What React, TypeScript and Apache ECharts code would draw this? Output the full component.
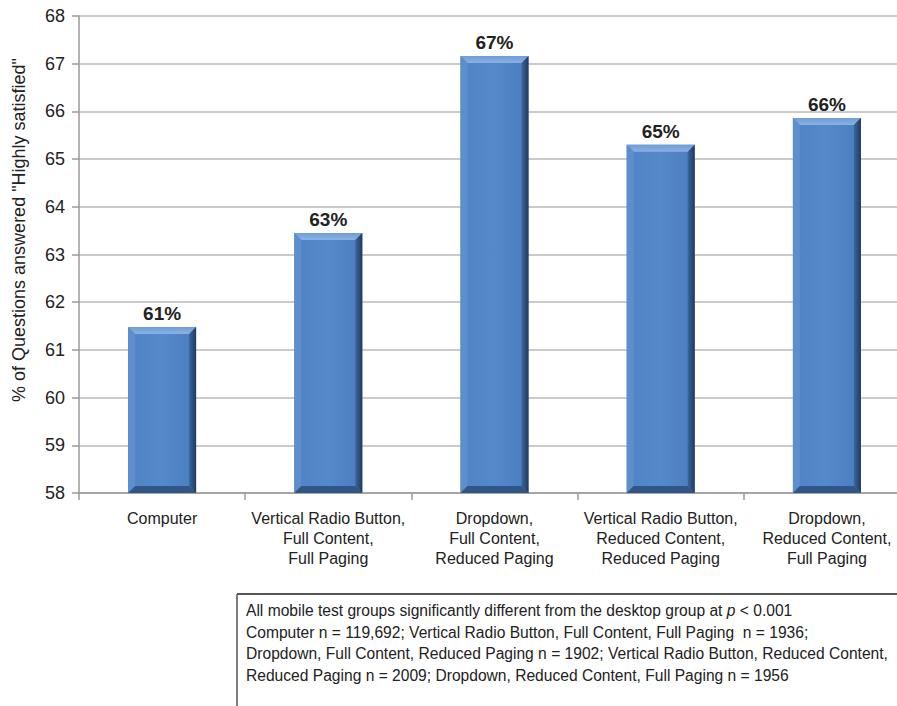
import React, { useEffect, useRef } from "react";
import * as echarts from "echarts";

const categories = [
  "Computer",
  "Vertical Radio Button,\nFull Content,\nFull Paging",
  "Dropdown,\nFull Content,\nReduced Paging",
  "Vertical Radio Button,\nReduced Content,\nReduced Paging",
  "Dropdown,\nReduced Content,\nFull Paging",
];
const values = [61.48, 63.45, 67.16, 65.3, 65.86];
const yMin = 58;
const yMax = 68;
const yTitle = '% of Questions answered "Highly satisfied"';
const noteLines = [
  "All mobile test groups significantly different from the desktop group at {i|p} < 0.001",
  "Computer n = 119,692; Vertical Radio Button, Full Content, Full Paging  n = 1936;",
  "Dropdown, Full Content, Reduced Paging n = 1902; Vertical Radio Button, Reduced Content,",
  "Reduced Paging n = 2009; Dropdown, Reduced Content, Full Paging n = 1956",
];

const FONT = '"Liberation Sans", Arial, Helvetica, sans-serif';

export default function App() {
  const ref = useRef<HTMLDivElement>(null);
  useEffect(() => {
    if (!ref.current) return;
    const chart = echarts.init(ref.current, null, { renderer: "svg" });
    const barW = 68;
    const bev = 7;
    chart.setOption({
      animation: false,
      backgroundColor: "#fff",
      textStyle: { fontFamily: FONT },
      grid: { left: 79, right: 0, top: 16, bottom: 213, containLabel: false },
      xAxis: {
        type: "category",
        data: categories,
        axisLine: { lineStyle: { color: "#9a9a9a", width: 1.5 } },
        axisTick: { show: true, length: 7, alignWithLabel: false, lineStyle: { color: "#9a9a9a", width: 1.5 } },
        axisLabel: {
          interval: 0,
          color: "#222",
          fontSize: 16,
          lineHeight: 20,
          margin: 15,
          fontFamily: FONT,
        },
      },
      yAxis: {
        type: "value",
        min: yMin,
        max: yMax,
        interval: 1,
        axisLine: { show: true, lineStyle: { color: "#9a9a9a", width: 1.5 } },
        axisTick: { show: true, length: 7, lineStyle: { color: "#9a9a9a", width: 1.5 } },
        axisLabel: { color: "#222", fontSize: 18, margin: 14, fontFamily: FONT },
        splitLine: { lineStyle: { color: "#b8b8b8", width: 1.5 } },
      },
      series: [
        {
          type: "custom",
          data: values.map((v, i) => [i, v]),
          renderItem: (params: any, api: any) => {
            const idx = api.value(0);
            const val = api.value(1);
            const top = api.coord([idx, val]);
            const base = api.coord([idx, yMin]);
            const x0 = top[0] - barW / 2;
            const x1 = top[0] + barW / 2;
            const y0 = top[1];
            const y1 = base[1];
            return {
              type: "group",
              children: [
                {
                  type: "rect",
                  shape: { x: x0, y: y0, width: barW, height: y1 - y0 },
                  style: {
                    fill: new echarts.graphic.LinearGradient(0, 0, 1, 0, [
                      { offset: 0, color: "#4f83c4" },
                      { offset: 0.5, color: "#5489ca" },
                      { offset: 1, color: "#4a7dbd" },
                    ]),
                  },
                },
                {
                  type: "polygon",
                  shape: { points: [[x0, y0], [x1, y0], [x1 - bev, y0 + bev], [x0 + bev, y0 + bev]] },
                  style: {
                    fill: new echarts.graphic.LinearGradient(0, 0, 0, 1, [
                      { offset: 0, color: "#6f9dd6" },
                      { offset: 1, color: "#8ab2e2" },
                    ]),
                  },
                },
                {
                  type: "polygon",
                  shape: { points: [[x0, y0], [x0 + bev, y0 + bev], [x0 + bev, y1 - bev], [x0, y1]] },
                  style: { fill: "#5d8fcd" },
                },
                {
                  type: "polygon",
                  shape: { points: [[x1, y0], [x1, y1], [x1 - bev, y1 - bev], [x1 - bev, y0 + bev]] },
                  style: {
                    fill: new echarts.graphic.LinearGradient(0, 0, 1, 0, [
                      { offset: 0, color: "#3a679f" },
                      { offset: 1, color: "#1f3a5e" },
                    ]),
                  },
                },
                {
                  type: "polygon",
                  shape: { points: [[x0, y1], [x0 + bev, y1 - bev], [x1 - bev, y1 - bev], [x1, y1]] },
                  style: { fill: "#2f5687" },
                },
                {
                  type: "text",
                  x: top[0],
                  y: y0 - 4,
                  style: {
                    text: Math.round(val) + "%",
                    fill: "#222",
                    fontSize: 19,
                    fontWeight: "bold",
                    fontFamily: FONT,
                    align: "center",
                    verticalAlign: "bottom",
                  },
                },
              ],
            };
          },
        },
      ],
      graphic: [
        {
          type: "text",
          x: 19,
          y: 230,
          rotation: Math.PI / 2,
          style: {
            text: yTitle,
            fill: "#222",
            fontSize: 18,
            fontFamily: FONT,
            align: "center",
            verticalAlign: "middle",
          },
        },
        {
          type: "line",
          shape: { x1: 237, y1: 594, x2: 912, y2: 594 },
          style: { stroke: "#555", lineWidth: 2 },
        },
        {
          type: "line",
          shape: { x1: 237, y1: 594, x2: 237, y2: 706 },
          style: { stroke: "#555", lineWidth: 1.5 },
        },
        {
          type: "text",
          x: 246,
          y: 600,
          style: {
            text: noteLines.join("\n"),
            fill: "#222",
            fontSize: 15.6,
            lineHeight: 21.5,
            fontFamily: FONT,
            verticalAlign: "top",
            rich: {
              i: { fontStyle: "italic", fontSize: 15.6, fontFamily: FONT, fill: "#222", lineHeight: 21.5 },
            },
          },
        },
      ],
    });
    return () => chart.dispose();
  }, []);
  return (
    <div
      ref={ref}
      style={{ position: "fixed", left: 0, top: 0, width: 910, height: 706, background: "#fff" }}
    />
  );
}
